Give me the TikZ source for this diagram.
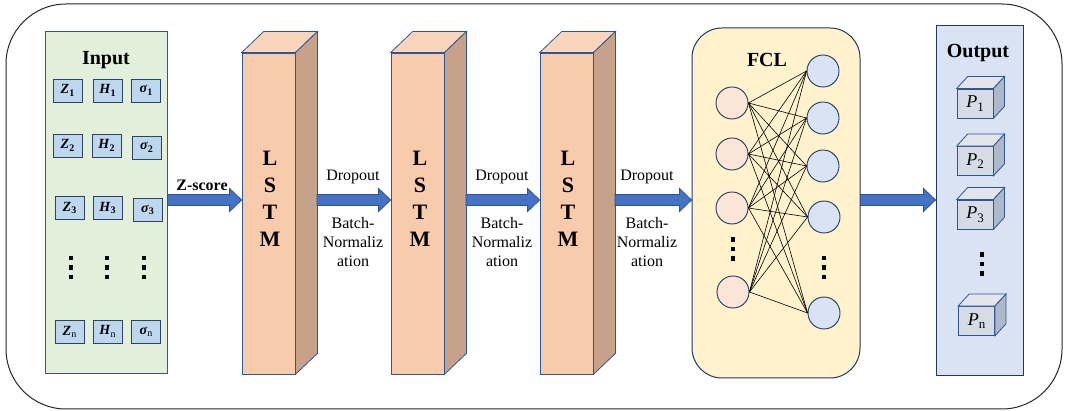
\documentclass[tikz,border=0pt]{standalone}
\usepackage{fontspec}
\setmainfont{Liberation Serif}
\usetikzlibrary{calc}
\definecolor{arrowfill}{HTML}{4472C4}
\definecolor{arrowline}{HTML}{2F528F}
\definecolor{inpfill}{HTML}{E2EFDA}
\definecolor{boxline}{HTML}{44546A}
\definecolor{sboxfill}{HTML}{BDD7EE}
\definecolor{sboxline}{HTML}{2F4260}
\definecolor{lstmfront}{HTML}{F8CBAD}
\definecolor{lstmtop}{HTML}{F9D5BC}
\definecolor{lstmside}{HTML}{C6A28A}
\definecolor{lstmline}{HTML}{2F5597}
\definecolor{fclfill}{HTML}{FFF2CC}
\definecolor{darkline}{HTML}{1F3864}
\definecolor{neuL}{HTML}{FBE5D6}
\definecolor{neuR}{HTML}{DAE3F3}
\definecolor{outfill}{HTML}{DAE3F3}
\definecolor{cubefront}{HTML}{D6DCE5}
\definecolor{cubetop}{HTML}{E2E6EC}
\definecolor{cubeside}{HTML}{ADB9CA}
\newcommand\zsub[2]{\textbf{\textit{#1}}\raisebox{-2.5pt}{\fontsize{10}{10}\selectfont\bfseries #2}}
\newcommand\zsubn[1]{\textbf{\textit{#1}}\raisebox{-2.5pt}{\fontsize{10}{10}\selectfont n}}
\newcommand\psub[1]{\textit{P}\raisebox{-3.5pt}{\fontsize{13}{13}\selectfont #1}}
\newcommand\barrow[2]{%
  \draw[blockarrow] let \p1=(#1), \p2=(#2) in
    (\x1,\y1+5.5pt) -- (\x2-12pt,\y1+5.5pt) -- (\x2-12pt,\y1+11.5pt) -- (\x2,\y1)
    -- (\x2-12pt,\y1-11.5pt) -- (\x2-12pt,\y1-5.5pt) -- (\x1,\y1-5.5pt) -- cycle;}
\newcommand\prism[5]{% node, dx, dy, topcolor, sidecolor
  \filldraw[fill=#4, draw=lstmline, line width=0.8pt] (#1.north west) -- ++(#2,-#3) -- ($(#1.north east)+(#2,-#3)$) -- (#1.north east) -- cycle;
  \filldraw[fill=#5, draw=lstmline, line width=0.8pt] (#1.north east) -- ++(#2,-#3) -- ($(#1.south east)+(#2,-#3)$) -- (#1.south east) -- cycle;}
\newcommand\vdotsq[2]{%
  \foreach \d in {-9.5,0,9.5} {\fill (#1-2.2,#2+\d-2.2) rectangle (#1+2.2,#2+\d+2.2);}}
\begin{document}
\begin{tikzpicture}[x=1pt,y=-1pt,
  blockarrow/.style={fill=arrowfill, draw=arrowline, line width=0.8pt},
  inbox/.style={draw=boxline, fill=inpfill, line width=1pt, minimum width=122pt, minimum height=342pt, inner sep=0pt},
  title/.style={font=\bfseries\fontsize{20}{24}\selectfont},
  sbox/.style={draw=sboxline, fill=sboxfill, line width=0.9pt, minimum width=29pt, minimum height=23pt, inner sep=0pt, font=\fontsize{14}{16}\selectfont},
  lstmbox/.style={draw=lstmline, fill=lstmfront, line width=0.8pt, minimum width=53pt, minimum height=321pt, inner sep=0pt},
  lstmtxt/.style={font=\bfseries\fontsize{22}{27}\selectfont, align=center},
  lbl/.style={font=\fontsize{16}{19}\selectfont, align=center},
  fclbox/.style={draw=darkline, fill=fclfill, line width=1pt, rounded corners=30pt, minimum width=168pt, minimum height=350pt, inner sep=0pt},
  neuron/.style={circle, draw=darkline, line width=0.9pt, minimum size=32pt, inner sep=0pt},
  outbox/.style={draw=darkline, fill=outfill, line width=1pt, minimum width=87pt, minimum height=350pt, inner sep=0pt},
  cube/.style={draw=lstmline, fill=cubefront, line width=0.8pt, minimum width=36pt, minimum height=29pt, inner sep=0pt, font=\fontsize{18}{20}\selectfont},
  conn/.style={black, line width=0.6pt}]
\useasboundingbox (0,0) rectangle (1066,411);
\draw[black!85, line width=1pt, rounded corners=60pt] (6,4) rectangle (1062,409);
\coordinate (ax) at (0,200);

% Input
\node[inbox] (inp) at (106,203) {};
\node[title] (intitle) at (106,60) {Input};
\node[sbox] (z1) at (67.5,90.5) {\zsub{Z}{1}};
\node[sbox] (h1) at (107.5,90.5) {\zsub{H}{1}};
\node[sbox] (s1) at (146,90.5) {\zsub{σ}{1}};
\node[sbox] (z2) at (67.5,145.5) {\zsub{Z}{2}};
\node[sbox] (h2) at (106.5,145.5) {\zsub{H}{2}};
\node[sbox] (s2) at (146.5,147.5) {\zsub{σ}{2}};
\node[sbox] (z3) at (69.5,208) {\zsub{Z}{3}};
\node[sbox] (h3) at (107.5,208) {\zsub{H}{3}};
\node[sbox] (s3) at (147.5,210) {\zsub{σ}{3}};
\vdotsq{71}{267.5}
\vdotsq{107}{267.5}
\vdotsq{144}{267.5}
\node[sbox] (zn) at (69.5,332) {\zsubn{Z}};
\node[sbox] (hn) at (107.5,331.5) {\zsubn{H}};
\node[sbox] (sn) at (146,332) {\zsubn{σ}};

% LSTMs
\node[lstmbox] (lstm1) at (268.5,213.5) {};
\prism{lstm1}{22}{21}{lstmtop}{lstmside}
\node[lstmtxt] (lstm1t) at (270,198.5) {L\\S\\T\\M};
\node[lstmbox] (lstm2) at (417.5,213.5) {};
\prism{lstm2}{22}{21}{lstmtop}{lstmside}
\node[lstmtxt] (lstm2t) at (420,198.5) {L\\S\\T\\M};
\node[lstmbox] (lstm3) at (566.5,213.5) {};
\prism{lstm3}{22}{21}{lstmtop}{lstmside}
\node[lstmtxt] (lstm3t) at (568,198.5) {L\\S\\T\\M};
\coordinate (l1r) at (317,200);
\coordinate (l2r) at (466,200);
\coordinate (l3r) at (615,200);

% FCL
\node[fclbox] (fcl) at (776,203) {};
\node[title] (fcltitle) at (767,60) {FCL};
\node[neuron, fill=neuL] (n1) at (732,103) {};
\node[neuron, fill=neuL] (n2) at (732,154) {};
\node[neuron, fill=neuL] (n3) at (732,208) {};
\node[neuron, fill=neuL] (n4) at (733,292) {};
\node[neuron, fill=neuR] (m1) at (823,71) {};
\node[neuron, fill=neuR] (m2) at (823,118) {};
\node[neuron, fill=neuR] (m3) at (823,166) {};
\node[neuron, fill=neuR] (m4) at (824,217) {};
\node[neuron, fill=neuR] (m5) at (824,313) {};
\foreach \i in {n1,n2,n3,n4} \foreach \j in {m1,m2,m3,m4,m5} \draw[conn] (\i.east) -- (\j.west);
\vdotsq{733}{249}
\vdotsq{824}{267.5}

% Output
\node[outbox] (outb) at (979.5,201) {};
\node[title] (outtitle) at (978,53) {Output};
\node[cube] (p1) at (975,103.5) {\psub{1}};
\prism{p1}{11}{12}{cubetop}{cubeside}
\node[cube] (p2) at (975,161) {\psub{2}};
\prism{p2}{11}{12}{cubetop}{cubeside}
\node[cube] (p3) at (975,214.5) {\psub{3}};
\prism{p3}{11}{12}{cubetop}{cubeside}
\vdotsq{982}{264}
\node[cube] (pn) at (976.5,321) {\psub{n}};
\prism{pn}{11}{12}{cubetop}{cubeside}

% Arrows
\barrow{inp.east|-ax}{lstm1.west|-ax}
\barrow{l1r}{lstm2.west|-ax}
\barrow{l2r}{lstm3.west|-ax}
\barrow{l3r}{fcl.west|-ax}
\barrow{fcl.east|-ax}{outb.west|-ax}

% Labels
\node[font=\bfseries\fontsize{16}{19}\selectfont] (zscore) at (202,185) {Z-score};
\node[lbl] (do1) at (353,177) {Dropout};
\node[lbl] (bn1) at (353,242) {Batch-\\Normaliz\\ation};
\node[lbl] (do2) at (502,177) {Dropout};
\node[lbl] (bn2) at (502,242) {Batch-\\Normaliz\\ation};
\node[lbl] (do3) at (647,177) {Dropout};
\node[lbl] (bn3) at (647,242) {Batch-\\Normaliz\\ation};
\end{tikzpicture}
\end{document}
